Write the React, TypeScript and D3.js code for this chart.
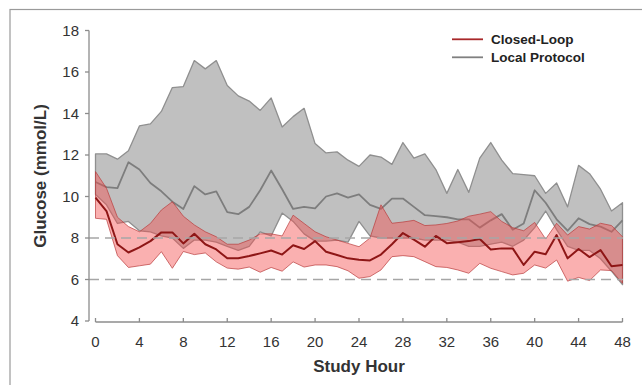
import React from "react";
import * as d3 from "d3";

const hours = d3.range(0, 49);

const localUpper = [12.05, 12.05, 11.8, 12.2, 13.4, 13.5, 14.1, 15.25, 15.3, 16.55, 16.15, 16.55, 15.35, 14.85, 14.6, 14.15, 14.75, 13.35, 13.85, 14.25, 12.55, 12.1, 12.15, 11.75, 11.45, 12.0, 11.9, 11.55, 12.6, 11.85, 12.05, 11.3, 10.15, 11.3, 10.2, 11.85, 12.6, 11.75, 11.1, 11.05, 11.0, 10.15, 10.65, 9.5, 11.5, 11.1, 10.35, 9.3, 9.7];
const localMedian = [10.7, 10.45, 10.4, 11.65, 11.3, 10.65, 10.25, 9.75, 9.4, 10.5, 10.1, 10.25, 9.25, 9.15, 9.5, 10.3, 11.25, 10.35, 9.4, 9.5, 9.43, 10.0, 10.15, 9.95, 10.1, 9.6, 9.4, 9.9, 9.9, 9.5, 9.1, 9.05, 9.0, 8.9, 8.9, 8.5, 8.85, 9.15, 8.4, 8.7, 10.3, 9.7, 8.9, 8.35, 8.95, 8.67, 8.55, 8.3, 8.85];
const localLower = [10.1, 9.6, 8.7, 8.8, 8.35, 8.3, 8.1, 8.0, 7.5, 7.9, 7.9, 7.8, 7.6, 7.4, 7.6, 8.3, 8.1, 9.2, 8.8, 8.2, 7.85, 7.85, 7.9, 7.8, 8.8, 8.1, 8.0, 8.0, 8.0, 8.0, 7.9, 7.9, 7.9, 7.8, 7.6, 7.6, 7.7, 7.8, 7.6, 7.9, 8.5, 9.3, 8.4, 7.6, 7.4, 7.4, 7.0, 6.4, 5.75];

const closedUpper = [11.2, 10.4, 9.0, 8.55, 8.3, 8.7, 9.35, 9.75, 9.05, 8.63, 8.3, 8.06, 7.7, 7.7, 7.9, 8.2, 8.2, 8.1, 9.1, 8.7, 8.3, 8.06, 7.9, 7.74, 7.58, 8.0, 9.6, 8.71, 8.77, 8.85, 8.6, 8.63, 8.7, 8.82, 9.05, 9.15, 9.27, 8.8, 8.5, 8.35, 8.75, 7.95, 8.71, 8.14, 8.55, 8.43, 8.71, 8.6, 8.06];
const closedMedian = [9.95, 9.3, 7.7, 7.3, 7.55, 7.85, 8.27, 8.27, 7.74, 8.2, 7.7, 7.45, 7.02, 7.02, 7.13, 7.26, 7.4, 7.2, 7.65, 7.47, 7.85, 7.34, 7.18, 7.02, 6.95, 6.92, 7.2, 7.7, 8.24, 7.92, 7.58, 8.1, 7.75, 7.8, 7.85, 7.95, 7.45, 7.5, 7.5, 6.7, 7.34, 7.22, 8.14, 7.02, 7.47, 7.08, 7.42, 6.64, 6.7];
const closedLower = [8.95, 8.9, 7.15, 6.58, 6.66, 6.74, 7.34, 6.54, 7.35, 7.2, 7.28, 6.85, 6.55, 6.5, 6.6, 6.35, 6.58, 6.4, 6.85, 6.6, 6.7, 6.7, 6.62, 6.42, 6.06, 6.14, 6.46, 7.1, 7.15, 7.1, 6.86, 6.62, 6.58, 6.46, 6.3, 6.78, 6.54, 6.38, 6.22, 6.3, 6.7, 6.55, 6.94, 5.92, 6.1, 5.95, 6.46, 6.43, 5.82];

const yTicks = [4, 6, 8, 10, 12, 14, 16, 18];
const xTicks = [0, 4, 8, 12, 16, 20, 24, 28, 32, 36, 40, 44, 48];
const refLines = [6, 8];
const legendItems = ["Closed-Loop", "Local Protocol"];

export default function App() {
  const W = 642, H = 385;
  const x = d3.scaleLinear().domain([0, 48]).range([95.5, 622.5]);
  const y = d3.scaleLinear().domain([4, 18]).range([321, 30.5]);

  const area = (up: number[], lo: number[]) =>
    d3.area<number>().x((h) => x(h)).y0((h) => y(lo[h])).y1((h) => y(up[h]))(hours) || "";
  const line = (v: number[]) => d3.line<number>().x((h) => x(h)).y((h) => y(v[h]))(hours) || "";
  const outline = (up: number[], lo: number[]) => {
    const pts: [number, number][] = hours.map((h) => [x(h), y(up[h])]);
    const bot: [number, number][] = hours.slice().reverse().map((h) => [x(h), y(lo[h])]);
    return d3.line()([...pts, ...bot]) + "Z";
  };

  const axisColor = "#8c8c8c";
  const font = "Liberation Sans, Arial, sans-serif";
  const legendColors = ["#a8282a", "#808080"];

  return (
    <svg width={W} height={H} style={{ position: "absolute", left: 0, top: 0, background: "#fff" }} fontFamily={font}>
      <rect x={0} y={0} width={W} height={H} fill="#fff" />
      <rect x={10} y={9.5} width={700} height={500} fill="none" stroke="#9a9a9a" strokeWidth={1.2} />

      {/* Local protocol band */}
      <path d={area(localUpper, localLower)} fill="#c0c0c0" />
      <path d={outline(localUpper, localLower)} fill="none" stroke="#8f8f8f" strokeWidth={1.3} strokeLinejoin="round" />
      <path d={line(localMedian)} fill="none" stroke="#7d7d7d" strokeWidth={1.8} strokeLinejoin="round" />

      {/* Closed-loop band */}
      <path d={area(closedUpper, closedLower)} fill="rgba(244,80,80,0.45)" />
      <path d={outline(closedUpper, closedLower)} fill="none" stroke="rgba(185,60,60,0.7)" strokeWidth={1} strokeLinejoin="round" />
      <path d={line(closedMedian)} fill="none" stroke="#8e1616" strokeWidth={2} strokeLinejoin="round" />

      {/* reference lines */}
      {refLines.map((v) => (
        <line key={v} x1={89} x2={623} y1={y(v)} y2={y(v)} stroke="#a6a6a6" strokeWidth={1.5} strokeDasharray="10,6" />
      ))}

      {/* y axis */}
      <line x1={89} x2={89} y1={y(18)} y2={y(4)} stroke={axisColor} strokeWidth={1.3} />
      {yTicks.map((t) => (
        <g key={t}>
          <line x1={85} x2={89} y1={y(t)} y2={y(t)} stroke={axisColor} strokeWidth={1.3} />
          <text x={79} y={y(t)} dy="0.36em" textAnchor="end" fontSize={15} fill="#333">{t}</text>
        </g>
      ))}

      {/* x axis */}
      <line x1={x(0)} x2={x(48)} y1={322} y2={322} stroke={axisColor} strokeWidth={1.3} />
      {xTicks.map((t) => (
        <g key={t}>
          <line x1={x(t)} x2={x(t)} y1={318} y2={322} stroke={axisColor} strokeWidth={1.3} />
          <text x={x(t)} y={347} textAnchor="middle" fontSize={15} fill="#333">{t}</text>
        </g>
      ))}

      <text x={(x(0) + x(48)) / 2} y={372} textAnchor="middle" fontSize={17} fontWeight="bold" fill="#333">Study Hour</text>
      <text transform={`translate(46,${176}) rotate(-90)`} textAnchor="middle" fontSize={17} fontWeight="bold" fill="#333">Glucose (mmol/L)</text>

      {/* legend */}
      {legendItems.map((name, i) => (
        <g key={name}>
          <line x1={452} x2={483} y1={39.3 + i * 18} y2={39.3 + i * 18} stroke={legendColors[i]} strokeWidth={1.8} />
          <text x={491} y={39.3 + i * 18} dy="0.36em" fontSize={13.5} fontWeight="bold" fill="#222">{name}</text>
        </g>
      ))}
    </svg>
  );
}
